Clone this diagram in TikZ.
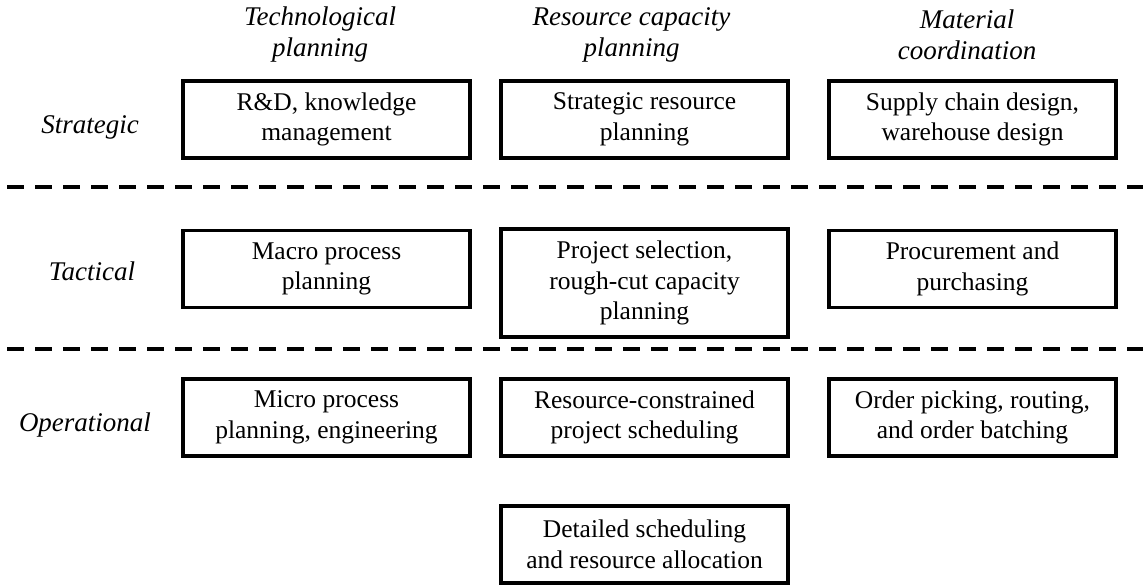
\documentclass[tikz,border=0pt]{standalone}
\usepackage{fontspec}
\setmainfont{Liberation Serif}
\usetikzlibrary{positioning}

\begin{document}
\begin{tikzpicture}[x=1pt, y=-1pt,
    task/.style={draw, line width=3.2pt, minimum width=287pt, minimum height=77pt,
        inner sep=0pt, align=center, font=\fontsize{25.5}{30.5}\selectfont},
    head/.style={align=center, font=\fontsize{27}{31}\selectfont\itshape},
    level/.style={font=\fontsize{27}{30}\selectfont\itshape},
    divider/.style={line width=4.5pt, dash pattern=on 17pt off 11pt}]
    \useasboundingbox (0,0) rectangle (1143,585);

    % Column headings
    \node[head] (htech) at (320,35) {Technological\\planning};
    \node[head] (hres) at (631.5,35) {Resource capacity\\planning};
    \node[head] (hmat) at (967,35) {Material\\coordination};

    % Level labels
    \node[level] (lstrat) at (90,127) {Strategic};
    \node[level] (ltact) at (92,271) {Tactical};
    \node[level] (lop) at (85,425) {Operational};

    % Strategic boxes
    \node[task] (s1) at (326.5,119.5) {R\&D, knowledge\\management};
    \node[task] (s2) at (644.5,119.5) {Strategic resource\\planning};
    \node[task] (s3) at (972.5,119.5) {Supply chain design,\\warehouse design};

    % Tactical boxes
    \node[task] (t1) at (326.5,269) {Macro process\\planning};
    \node[task, minimum height=108pt] (t2) at (644.5,283) {Project selection,\\rough-cut capacity\\planning};
    \node[task] (t3) at (972.5,269) {Procurement and\\purchasing};

    % Operational boxes
    \node[task] (o1) at (326.5,417.5) {Micro process\\planning, engineering};
    \node[task] (o2) at (644.5,417.5) {Resource-constrained\\project scheduling};
    \node[task] (o3) at (972.5,417.5) {Order picking, routing,\\and order batching};
    \node[task] (o4) at (644.5,544.5) {Detailed scheduling\\and resource allocation};

    % Dashed dividers between levels
    \coordinate (d1l) at (7,187);
    \coordinate (d1r) at (1143,187);
    \coordinate (d2l) at (7,349);
    \coordinate (d2r) at (1143,349);
    \draw[divider] (d1l) -- (d1r);
    \draw[divider] (d2l) -- (d2r);
\end{tikzpicture}
\end{document}
